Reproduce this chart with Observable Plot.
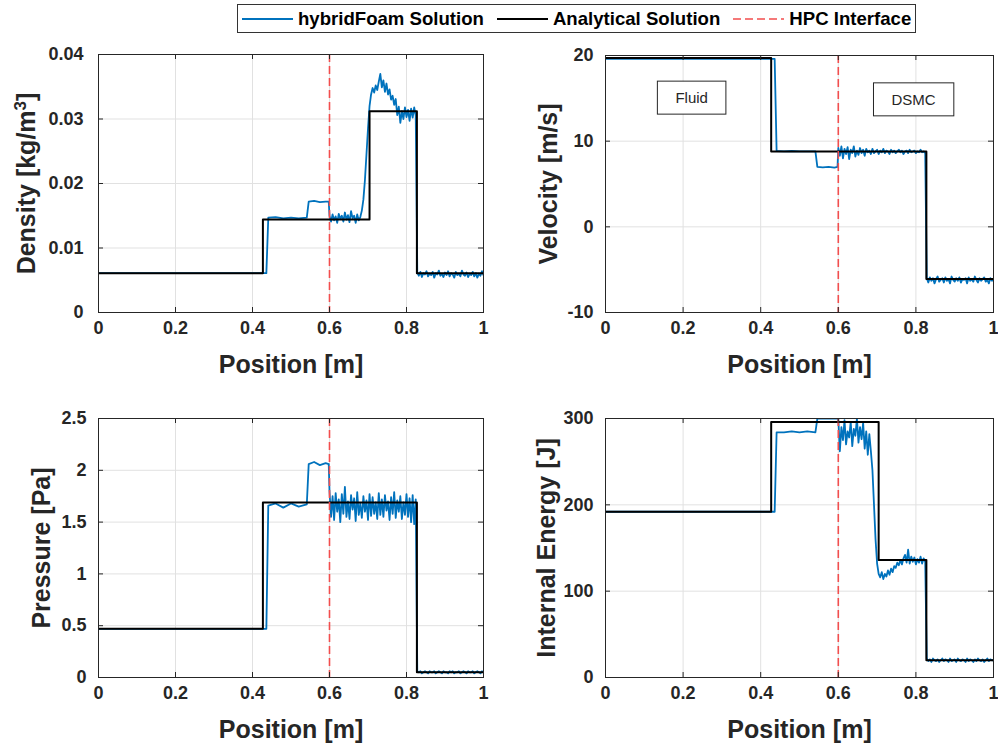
<!DOCTYPE html>
<html><head><meta charset="utf-8">
<script src="https://cdn.jsdelivr.net/npm/d3@7"></script>
<script src="https://cdn.jsdelivr.net/npm/@observablehq/plot@0.6"></script>
<style>
body{margin:0;background:#fff;}
#fig{position:relative;width:998px;height:748px;font-family:"Liberation Sans",Arial,sans-serif;background:#fff;}
.panel{position:absolute;}
#legend{position:absolute;left:237px;top:4px;width:677px;height:27px;border:1px solid #333;display:flex;align-items:center;font-weight:bold;font-size:18.6px;background:#fff;color:#000;box-sizing:content-box;}
#legend .item{display:flex;align-items:center;}
#legend svg{display:block;}
</style></head><body><div id="fig"><div id="legend"></div></div>
<script>
// ---------- data ----------
const seriesNames = ["hybridFoam Solution", "Analytical Solution", "HPC Interface"];
const positionTicks = [0, 0.2, 0.4, 0.6, 0.8, 1];
const interfacePosition = 0.6;
const regionLabels = [{label: "Fluid", x: 0.222, y: 15.0}, {label: "DSMC", x: 0.794, y: 14.8}];

// analytical solution: piecewise constant between these edges
const analyticalEdges = [0, 0.427, 0.704, 0.827, 1];
const densityAnalytical = [0.0061, 0.0144, 0.0312, 0.0061];
const velocityAnalytical = [19.7, 8.8, 8.8, -6.1];
const pressureAnalytical = [0.47, 1.69, 1.69, 0.05];
const energyAnalytical = [192, 296, 136, 20];

// hybridFoam solution, fluid region (read at these positions)
const fluidPositions = [0, 0.436, 0.441, 0.46, 0.48, 0.50, 0.52, 0.541, 0.546, 0.56, 0.575, 0.59, 0.598];
const densityFluid = [0.0061, 0.0061, 0.0147, 0.0148, 0.0146, 0.0147, 0.0146, 0.0147, 0.0172, 0.0173, 0.0171, 0.0172, 0.0172];
const velocityFluid = [19.6, 19.6, 8.85, 8.8, 8.85, 8.8, 8.8, 8.8, 7.0, 6.95, 7.0, 6.9, 7.0];
const pressureFluid = [0.47, 0.47, 1.66, 1.68, 1.64, 1.68, 1.65, 1.67, 2.06, 2.08, 2.05, 2.07, 2.06];
const energyFluid = [192, 192, 284, 284, 285, 284, 285, 284, 300, 300, 300, 300, 300];

// hybridFoam solution, DSMC region: cells from 0.6 to 1.0, spacing 0.004
const dsmcStart = 0.6, dsmcStep = 0.004;
const densityDsmc = [
 0.0150,0.0141,0.0152,0.0143,0.0149,0.0139,0.0153,0.0145,0.0150,0.0141,
 0.0155,0.0144,0.0151,0.0140,0.0157,0.0146,0.0150,0.0139,0.0152,0.0143,
 0.0148,0.0158,0.0175,0.0205,0.0245,0.0285,0.0320,0.0338,0.0348,0.0341,
 0.0352,0.0345,0.0358,0.0370,0.0349,0.0360,0.0342,0.0355,0.0338,0.0346,
 0.0330,0.0336,0.0322,0.0331,0.0306,0.0319,0.0294,0.0312,0.0300,0.0318,
 0.0303,0.0314,0.0297,0.0316,0.0302,0.0318,0.0305,0.0062,0.0057,0.0063,
 0.0055,0.0061,0.0059,0.0064,0.0056,0.0060,0.0058,0.0063,0.0054,0.0061,
 0.0059,0.0065,0.0057,0.0060,0.0055,0.0062,0.0058,0.0064,0.0056,0.0061,
 0.0059,0.0054,0.0063,0.0058,0.0060,0.0056,0.0065,0.0059,0.0057,0.0062,
 0.0055,0.0060,0.0058,0.0063,0.0056,0.0061,0.0054,0.0060,0.0057,0.0064,
 0.0058];
const velocityDsmc = [
 9.2,8.3,9.4,8.0,9.1,8.5,9.3,7.9,9.0,8.6,
 9.4,8.2,8.9,8.4,9.2,8.6,9.0,8.3,9.1,8.7,
 8.9,8.5,9.1,8.6,8.8,9.0,8.5,8.9,8.7,9.1,
 8.6,8.9,8.8,8.5,9.0,8.7,8.9,8.6,8.8,9.0,
 8.7,8.9,8.5,8.8,8.9,8.6,9.0,8.7,8.8,8.9,
 8.6,8.8,8.7,9.0,8.7,8.8,8.6,-6.0,-6.5,-5.9,
 -6.3,-6.0,-6.6,-6.1,-5.8,-6.4,-6.2,-6.0,-6.5,-5.9,
 -6.3,-6.1,-6.6,-5.8,-6.2,-6.4,-6.0,-6.3,-5.9,-6.5,
 -6.1,-6.2,-6.0,-6.6,-5.9,-6.3,-6.1,-6.4,-5.8,-6.2,
 -6.5,-6.0,-6.3,-6.1,-5.9,-6.4,-6.2,-6.6,-6.0,-6.3,
 -6.1];
const pressureDsmc = [
 1.80,1.55,1.75,1.52,1.78,1.60,1.72,1.50,1.77,1.58,
 1.84,1.55,1.70,1.53,1.76,1.62,1.73,1.51,1.79,1.57,
 1.68,1.54,1.75,1.60,1.71,1.52,1.77,1.56,1.74,1.58,
 1.69,1.53,1.78,1.57,1.72,1.55,1.76,1.61,1.70,1.52,
 1.74,1.58,1.79,1.54,1.71,1.60,1.75,1.53,1.69,1.57,
 1.77,1.55,1.73,1.50,1.76,1.48,1.72,0.06,0.05,0.06,
 0.04,0.05,0.06,0.05,0.04,0.06,0.05,0.05,0.06,0.04,
 0.05,0.06,0.05,0.04,0.06,0.05,0.05,0.04,0.06,0.05,
 0.06,0.04,0.05,0.05,0.06,0.04,0.05,0.06,0.05,0.04,
 0.06,0.05,0.05,0.06,0.04,0.05,0.06,0.05,0.04,0.06,
 0.05];
const energyDsmc = [
 300,262,290,275,298,270,285,278,296,268,
 288,280,300,272,290,276,295,265,285,258,
 282,262,240,200,160,132,120,116,122,114,
 120,117,124,119,126,122,129,127,133,130,
 136,131,138,142,133,148,132,140,134,139,
 131,137,133,140,132,138,134,22,19,21,
 18,22,20,19,21,18,20,22,19,21,
 20,18,22,19,20,21,18,22,20,19,
 21,20,18,22,19,21,20,18,21,19,
 22,20,19,21,18,20,22,19,21,20,
 20];

const densityTicks = [0, 0.01, 0.02, 0.03, 0.04];
const velocityTicks = [-10, 0, 10, 20];
const pressureTicks = [0, 0.5, 1, 1.5, 2, 2.5];
const energyTicks = [0, 100, 200, 300];

// ---------- build ----------
const BLUE = "#0072BD", RED = "#f24e4e", FRAME = "#262626", GRID = "#e1e1e1";
const FONT = "'Liberation Sans', Arial, Helvetica, sans-serif";
const W = 499, H = 374;
const NS = "http://www.w3.org/2000/svg";

function blueSeries(fluidY, dsmcY) {
  const a = fluidPositions.map((x, i) => ({x, y: fluidY[i]}));
  const b = dsmcY.map((y, i) => ({x: dsmcStart + i * dsmcStep, y}));
  return a.concat(b);
}
function stepSeries(vals) {
  return analyticalEdges.map((x, i) => ({x, y: vals[Math.min(i, vals.length - 1)]}));
}

function panel(cfg) {
  const innerW = W - cfg.mL - cfg.mR, innerH = H - cfg.mT - cfg.mB;
  const marks = [
    Plot.gridX(positionTicks, {stroke: GRID, strokeOpacity: 1}),
    Plot.gridY(cfg.yTicks, {stroke: GRID, strokeOpacity: 1}),
    Plot.line(cfg.blue, {x: "x", y: "y", stroke: BLUE, strokeWidth: 1.8, clip: true}),
    Plot.line(cfg.analytical, {x: "x", y: "y", curve: "step-after", stroke: "#000", strokeWidth: 2, clip: true}),
    Plot.ruleX([interfacePosition], {stroke: RED, strokeWidth: 1.6, strokeDasharray: "8,4"}),
    Plot.frame({stroke: FRAME, strokeWidth: 1}),
    Plot.tickX(positionTicks, {x: d => d, insetTop: innerH - 5, stroke: FRAME}),
    Plot.tickX(positionTicks, {x: d => d, insetBottom: innerH - 5, stroke: FRAME}),
    Plot.tickY(cfg.yTicks, {y: d => d, insetRight: innerW - 5, stroke: FRAME}),
    Plot.tickY(cfg.yTicks, {y: d => d, insetLeft: innerW - 5, stroke: FRAME}),
    Plot.axisX(positionTicks, {tickSize: 0, tickPadding: 9, tickFormat: d => String(d), label: null, fill: "#262626"}),
    Plot.axisY(cfg.yTicks, {tickSize: 0, tickPadding: cfg.yPad, tickFormat: d => String(d), label: null, fill: "#262626"}),
    Plot.text(["Position [m]"], {text: d => d, frameAnchor: "bottom", textAnchor: "middle", dy: 60, fontSize: 25, fontWeight: "bold", fill: "#262626"}),
    Plot.text([cfg.yLabel], {text: d => d, frameAnchor: "left", textAnchor: "middle", rotate: -90, dx: cfg.yLabelDx, fontSize: 25, fontWeight: "bold", fill: "#262626"})
  ];
  if (cfg.extra) marks.push(...cfg.extra);
  const svg = Plot.plot({
    width: W, height: H,
    marginLeft: cfg.mL, marginRight: cfg.mR, marginTop: cfg.mT, marginBottom: cfg.mB,
    style: {fontFamily: FONT, fontSize: "18px", fontWeight: "bold", background: "transparent", overflow: "visible"},
    x: {domain: [0, 1]},
    y: {domain: cfg.yDomain},
    marks
  });
  svg.classList.add("panel");
  svg.style.left = cfg.left + "px";
  svg.style.top = cfg.top + "px";
  document.getElementById("fig").appendChild(svg);
  return svg;
}

const dsvg = panel({left: 0, top: 0, mL: 98, mR: 16, mT: 54, mB: 62, yDomain: [0, 0.04], yTicks: densityTicks, yPad: 15,
  yLabel: "Density [kg/m3]", yLabelDx: -72,
  blue: blueSeries(densityFluid, densityDsmc), analytical: stepSeries(densityAnalytical)});

const vsvg = panel({left: 499, top: 0, mL: 106, mR: 5, mT: 55, mB: 62, yDomain: [-10, 20], yTicks: velocityTicks, yPad: 12,
  yLabel: "Velocity [m/s]", yLabelDx: -57,
  blue: blueSeries(velocityFluid, velocityDsmc), analytical: stepSeries(velocityAnalytical),
  extra: [Plot.text(regionLabels, {x: "x", y: "y", text: "label", textAnchor: "middle", fontSize: 15, fontWeight: "normal", fill: "#262626"})]});

panel({left: 0, top: 374, mL: 98, mR: 16, mT: 44, mB: 71, yDomain: [0, 2.5], yTicks: pressureTicks, yPad: 12,
  yLabel: "Pressure [Pa]", yLabelDx: -57,
  blue: blueSeries(pressureFluid, pressureDsmc), analytical: stepSeries(pressureAnalytical)});

panel({left: 499, top: 374, mL: 106, mR: 5, mT: 44, mB: 71, yDomain: [0, 300], yTicks: energyTicks, yPad: 12,
  yLabel: "Internal Energy [J]", yLabelDx: -59,
  blue: blueSeries(energyFluid, energyDsmc), analytical: stepSeries(energyAnalytical)});

// superscript 3 in density unit
Array.from(dsvg.querySelectorAll("text")).filter(t => t.textContent === "Density [kg/m3]").forEach(t => {
  const s = t.textContent;
  t.textContent = "";
  const a = document.createElementNS(NS, "tspan"); a.textContent = s.slice(0, -2);
  const b = document.createElementNS(NS, "tspan"); b.textContent = "3";
  b.setAttribute("font-size", "17"); b.setAttribute("dy", "-9");
  const c = document.createElementNS(NS, "tspan"); c.textContent = "]"; c.setAttribute("dy", "9");
  t.append(a, b, c);
});

// boxes around region labels
{
  const sr = vsvg.getBoundingClientRect();
  const names = regionLabels.map(d => d.label);
  Array.from(vsvg.querySelectorAll("text")).filter(t => names.includes(t.textContent)).forEach(t => {
    const b = t.getBoundingClientRect();
    const r = document.createElementNS(NS, "rect");
    const padX = 18, padY = 8;
    r.setAttribute("x", b.left - sr.left - padX); r.setAttribute("y", b.top - sr.top - padY);
    r.setAttribute("width", b.width + 2 * padX); r.setAttribute("height", b.height + 2 * padY);
    r.setAttribute("fill", "#fff"); r.setAttribute("stroke", "#262626"); r.setAttribute("stroke-width", "1");
    const g = t.parentNode;
    g.parentNode.insertBefore(r, g);
  });
}

// legend
const legend = document.getElementById("legend");
const legendStyles = [
  {stroke: BLUE, dash: null, width: 2},
  {stroke: "#000", dash: null, width: 2},
  {stroke: RED, dash: "8,4", width: 1.6}
];
const legendGaps = [4, 13, 13];
seriesNames.forEach((name, i) => {
  const item = document.createElement("div");
  item.className = "item";
  item.style.marginLeft = legendGaps[i] + "px";
  const s = legendStyles[i];
  item.innerHTML = `<svg width="51" height="10"><line x1="0" x2="51" y1="5" y2="5" stroke="${s.stroke}" stroke-width="${s.width}" ${s.dash ? `stroke-dasharray="${s.dash}"` : ""}/></svg><span style="margin-left:5px">${name}</span>`;
  legend.appendChild(item);
});
</script></body></html>
